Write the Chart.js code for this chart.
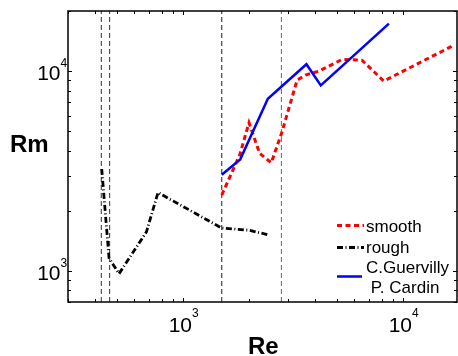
<!DOCTYPE html>
<html>
<head>
<meta charset="utf-8">
<script src="https://cdn.jsdelivr.net/npm/chart.js@4.4.0/dist/chart.umd.min.js"></script>
<style>
  html, body { margin: 0; padding: 0; background: #fff; }
  #wrap { width: 458px; height: 356px; position: relative; }
</style>
</head>
<body>
<div id="wrap"><canvas id="chart"></canvas></div>
<script>
// values (Re on x, Rm on y, both log)
const reGuervilly = [1500, 1820, 2430, 3640, 4230, 8630];
const rmGuervilly = [3030, 3620, 7280, 10830, 8480, 17300];

const reSmooth = [1500, 1810, 1995, 2230, 2520, 2820, 3300, 3600, 4140, 5280, 6510, 8170, 16700];
const rmSmooth = [2400, 3810, 5520, 3880, 3480, 4980, 9020, 9550, 10000, 11440, 11350, 8920, 13330];

const reRough = [427, 461, 512, 682, 770, 1500, 2000, 2420];
const rmRough = [3240, 1160, 970, 1570, 2470, 1640, 1600, 1520];

// vertical dashed marker lines
const reMarks = [425, 464, 1500, 2800];
const markColors = ['#333', '#333', '#222', '#666'];

const xTicks = [1000, 10000];
const yTicks = [1000, 10000];
const xRange = [300, 17600];
const yRange = [700, 20000];

const legendItems = ['smooth', 'rough', 'C.Guervilly', ' P. Cardin'];

function pts(xs, ys) {
    return xs.map((x, i) => ({ x: x, y: ys[i] }));
}

const datasets = [
    { data: pts(reGuervilly, rmGuervilly), borderColor: '#0000ff', borderWidth: 2.5 },
    { data: pts(reSmooth, rmSmooth), borderColor: '#ff0000', borderWidth: 3, borderDash: [5, 3.5] },
    { data: pts(reRough, rmRough), borderColor: '#000', borderWidth: 2.8, borderDash: [6, 2.5, 1, 2.5] }
];
reMarks.forEach((re, i) => {
    datasets.push({
        data: pts([re, re], yRange),
        borderColor: markColors[i],
        borderWidth: 1,
        borderDash: [5, 3]
    });
});

function minorValues(range) {
    const out = [];
    for (let d = 100; d <= 100000; d *= 10) {
        for (let k = 1; k <= 9; k++) {
            const v = k * d;
            if (v >= range[0] && v <= range[1]) out.push({ v: v, major: k === 1 });
        }
    }
    return out;
}

// MATLAB style box, inward ticks, 10^n labels, axis names, legend
const matlabAxes = {
    id: 'matlabAxes',
    afterDraw(chart) {
        const ctx = chart.ctx;
        const a = chart.chartArea;
        const xs = chart.scales.x, ys = chart.scales.y;
        ctx.save();
        ctx.strokeStyle = '#000';
        ctx.lineWidth = 1;
        ctx.setLineDash([]);

        minorValues(xRange).forEach(t => {
            const px = Math.round(xs.getPixelForValue(t.v)) + 0.5;
            const len = t.major ? 4 : 3;
            ctx.beginPath();
            ctx.moveTo(px, a.bottom); ctx.lineTo(px, a.bottom - len);
            ctx.moveTo(px, a.top); ctx.lineTo(px, a.top + len);
            ctx.stroke();
        });
        minorValues(yRange).forEach(t => {
            const py = Math.round(ys.getPixelForValue(t.v)) + 0.5;
            const len = t.major ? 4 : 3;
            ctx.beginPath();
            ctx.moveTo(a.left, py); ctx.lineTo(a.left + len, py);
            ctx.moveTo(a.right, py); ctx.lineTo(a.right - len, py);
            ctx.stroke();
        });

        ctx.lineWidth = 1.5;
        ctx.strokeRect(a.left, a.top, a.right - a.left, a.bottom - a.top);

        ctx.fillStyle = '#000';
        ctx.textBaseline = 'alphabetic';
        xTicks.forEach(v => {
            const px = xs.getPixelForValue(v);
            const exp = String(Math.round(Math.log10(v)));
            ctx.font = '21px "Liberation Sans", Arial, sans-serif';
            ctx.textAlign = 'right';
            ctx.fillText('10', px + 9, a.bottom + 30);
            ctx.font = '12px "Liberation Sans", Arial, sans-serif';
            ctx.textAlign = 'left';
            ctx.fillText(exp, px + 9, a.bottom + 15);
        });
        yTicks.forEach(v => {
            const py = ys.getPixelForValue(v);
            const exp = String(Math.round(Math.log10(v)));
            ctx.font = '21px "Liberation Sans", Arial, sans-serif';
            ctx.textAlign = 'right';
            ctx.fillText('10', 60.5, py + 9);
            ctx.font = '12px "Liberation Sans", Arial, sans-serif';
            ctx.textAlign = 'left';
            ctx.fillText(exp, 60.5, py - 4.5);
        });

        ctx.font = 'bold 24px "Liberation Sans", Arial, sans-serif';
        ctx.textAlign = 'left';
        ctx.fillText('Rm', 10, 151.5);
        ctx.fillText('Re', 248, 354);

        // legend
        const samples = [
            { y: 225.5, color: '#ff0000', dash: [5, 3.5], w: 3, x2: 364 },
            { y: 247.5, color: '#000', dash: [6, 2.5, 1, 2.5], w: 2.8, x2: 364 },
            { y: 276.5, color: '#0000ff', dash: [], w: 2.5, x2: 362 }
        ];
        samples.forEach(s => {
            ctx.strokeStyle = s.color;
            ctx.lineWidth = s.w;
            ctx.setLineDash(s.dash);
            ctx.beginPath();
            ctx.moveTo(337, s.y); ctx.lineTo(s.x2, s.y);
            ctx.stroke();
        });
        ctx.setLineDash([]);
        ctx.font = '17px "Liberation Sans", Arial, sans-serif';
        ctx.fillText(legendItems[0], 366, 231.5);
        ctx.fillText(legendItems[1], 366, 252.5);
        ctx.fillText(legendItems[2], 366, 273);
        ctx.fillText(legendItems[3], 366, 293);
        ctx.restore();
    }
};

new Chart(document.getElementById('chart'), {
    type: 'line',
    data: { datasets: datasets },
    options: {
        responsive: true,
        maintainAspectRatio: false,
        animation: false,
        events: [],
        devicePixelRatio: 1,
        layout: { padding: { left: 68, top: 11, right: 1, bottom: 54 } },
        elements: { point: { radius: 0 }, line: { tension: 0, fill: false } },
        plugins: { legend: { display: false }, tooltip: { enabled: false } },
        scales: {
            x: { type: 'logarithmic', min: xRange[0], max: xRange[1], display: false },
            y: { type: 'logarithmic', min: yRange[0], max: yRange[1], display: false }
        }
    },
    plugins: [matlabAxes]
});
</script>
</body>
</html>
